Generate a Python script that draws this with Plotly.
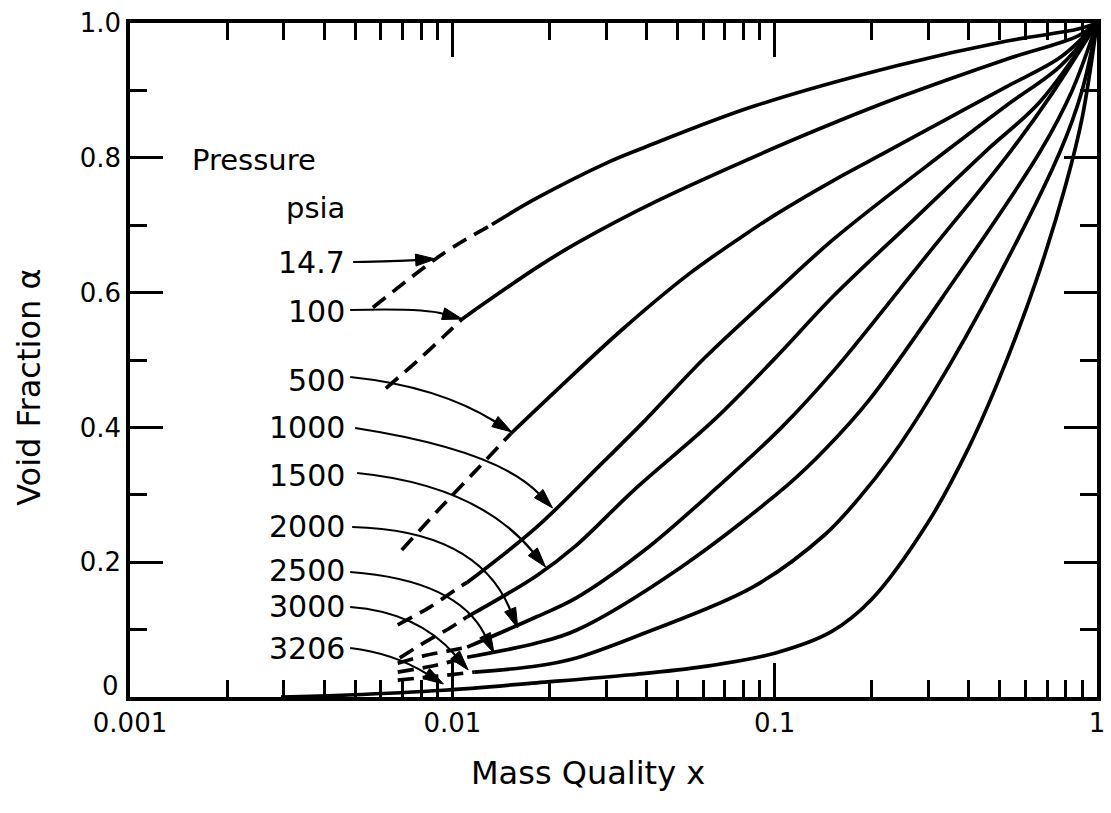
import math
import plotly.graph_objects as go

FONT = "DejaVu Sans"

# ---------------- data ----------------
pressure_labels = ["14.7", "100", "500", "1000", "1500", "2000", "2500", "3000", "3206"]

p14_dash_x = [0.00567, 0.00887, 0.01058, 0.01327]
p14_dash_a = [0.578, 0.650, 0.674, 0.701]
p14_x = [0.01327, 0.01826, 0.03063, 0.03925, 0.0855, 0.2407, 0.5212, 0.874, 1.0]
p14_a = [0.701, 0.740, 0.794, 0.815, 0.876, 0.937, 0.973, 0.991, 1.0]

p100_dash_x = [0.00622, 0.0078, 0.00945, 0.01073]
p100_dash_a = [0.458, 0.499, 0.536, 0.561]
p100_x = [0.01073, 0.01826, 0.02424, 0.04274, 0.0979, 0.153, 0.2407, 0.5212, 0.874, 1.0]
p100_a = [0.561, 0.637, 0.673, 0.735, 0.813, 0.852, 0.889, 0.946, 0.981, 1.0]

p500_dash_x = [0.00697, 0.00899, 0.01194, 0.0152]
p500_dash_a = [0.218, 0.276, 0.338, 0.391]
p500_x = [0.0152, 0.02104, 0.0338, 0.0540, 0.0791, 0.1, 0.153, 0.2227, 0.3406, 0.5212, 0.7694, 1.0]
p500_a = [0.391, 0.455, 0.546, 0.627, 0.683, 0.715, 0.767, 0.809, 0.857, 0.905, 0.949, 1.0]

p1000_dash_x = [0.00677, 0.0085, 0.01036, 0.01112]
p1000_dash_a = [0.107, 0.133, 0.161, 0.170]
p1000_x = [0.01112, 0.01826, 0.02915, 0.03954, 0.0609, 0.1, 0.153, 0.3406, 0.5212, 0.7694, 1.0]
p1000_a = [0.170, 0.252, 0.347, 0.410, 0.504, 0.600, 0.680, 0.810, 0.877, 0.936, 1.0]

p1500_dash_x = [0.00687, 0.0082, 0.0098, 0.01112]
p1500_dash_a = [0.058, 0.081, 0.102, 0.119]
p1500_x = [0.01112, 0.01826, 0.02424, 0.0366, 0.0645, 0.1, 0.153, 0.2697, 0.4522, 0.6677, 1.0]
p1500_a = [0.119, 0.180, 0.225, 0.307, 0.410, 0.502, 0.596, 0.708, 0.810, 0.884, 1.0]

p2000_dash_x = [0.00677, 0.00814, 0.00965, 0.01112]
p2000_dash_a = [0.050, 0.061, 0.068, 0.074]
p2000_x = [0.01112, 0.01826, 0.02424, 0.03954, 0.0663, 0.1051, 0.153, 0.2894, 0.54, 0.727, 1.0]
p2000_a = [0.074, 0.119, 0.147, 0.218, 0.311, 0.400, 0.485, 0.649, 0.810, 0.896, 1.0]

p2500_dash_x = [0.00677, 0.00868, 0.01112]
p2500_dash_a = [0.037, 0.046, 0.059]
p2500_x = [0.01112, 0.01826, 0.02424, 0.05137, 0.1112, 0.1425, 0.196, 0.358, 0.6677, 0.8375, 1.0]
p2500_a = [0.059, 0.080, 0.099, 0.193, 0.317, 0.366, 0.440, 0.616, 0.810, 0.900, 1.0]

p3000_dash_x = [0.00677, 0.00899, 0.01169]
p3000_dash_a = [0.025, 0.031, 0.037]
p3000_x = [0.01169, 0.01826, 0.02424, 0.03954, 0.0855, 0.1425, 0.1826, 0.2291, 0.3107, 0.4924, 0.7694, 0.899, 1.0]
p3000_a = [0.037, 0.046, 0.058, 0.095, 0.163, 0.240, 0.295, 0.355, 0.452, 0.622, 0.810, 0.900, 1.0]

p3206_x = [0.00294, 0.00475, 0.00938, 0.01826, 0.0358, 0.06, 0.1, 0.15, 0.2, 0.3, 0.4, 0.5, 0.65, 0.8, 0.9, 1.0]
p3206_a = [0.0, 0.003, 0.010, 0.021, 0.033, 0.045, 0.065, 0.097, 0.145, 0.26, 0.37, 0.475, 0.62, 0.76, 0.86, 1.0]

x_major = [0.001, 0.01, 0.1, 1]
x_major_text = ["0.001", "0.01", "0.1", "1"]
x_minor = [m * d for d in (0.001, 0.01, 0.1) for m in range(2, 10)]
y_major = [0, 0.2, 0.4, 0.6, 0.8, 1.0]
y_major_text = ["", "0.2", "0.4", "0.6", "0.8", "1.0"]
y_minor = [0.1, 0.3, 0.5, 0.7, 0.9]

dashed_sets = [
    (p14_dash_x, p14_dash_a), (p100_dash_x, p100_dash_a), (p500_dash_x, p500_dash_a),
    (p1000_dash_x, p1000_dash_a), (p1500_dash_x, p1500_dash_a), (p2000_dash_x, p2000_dash_a),
    (p2500_dash_x, p2500_dash_a), (p3000_dash_x, p3000_dash_a),
]
solid_sets = [
    (p14_x, p14_a), (p100_x, p100_a), (p500_x, p500_a), (p1000_x, p1000_a),
    (p1500_x, p1500_a), (p2000_x, p2000_a), (p2500_x, p2500_a), (p3000_x, p3000_a),
    (p3206_x, p3206_a),
]

# ---------------- figure ----------------
W, H = 1111, 813
ML, MR, MT, MB = 130, 6, 23, 116
PW, PH = W - ML - MR, H - MT - MB


def P(px, py):
    return ((px - ML) / PW, (H - MB - py) / PH)


fig = go.Figure()
for (xs, ys), name in zip(solid_sets, pressure_labels):
    fig.add_trace(go.Scatter(x=xs, y=ys, mode="lines", name=name + " psia",
                             line=dict(color="black", width=3.7, shape="spline", smoothing=1.0),
                             showlegend=False, hoverinfo="skip"))
for (xs, ys), name in zip(dashed_sets, pressure_labels):
    fig.add_trace(go.Scatter(x=xs, y=ys, mode="lines", name=name + " psia (extrap.)",
                             line=dict(color="black", width=3.7, shape="spline", smoothing=0.8,
                                       dash="16px,9px"),
                             showlegend=False, hoverinfo="skip"))

annotations = []
shapes = []

# "Pressure" / "psia" heading
px_, py_ = P(190, 160)
annotations.append(dict(text="Pressure", x=px_, y=py_, xref="paper", yref="paper",
                        xanchor="left", yanchor="middle", showarrow=False,
                        font=dict(family=FONT, size=29, color="black")))
px_, py_ = P(349, 208)
annotations.append(dict(text="psia", x=px_, y=py_, xref="paper", yref="paper",
                        xanchor="right", yanchor="middle", showarrow=False,
                        font=dict(family=FONT, size=29, color="black")))

label_y = [262, 311, 380, 428, 475, 526, 570, 606, 648]
leaders = [  # start, control, tip (pixel positions of the leader arrows)
    ((355, 262), (400, 261), (438, 259)),
    ((352, 310), (425, 308), (465, 319)),
    ((352, 377), (440, 386), (515, 432)),
    ((357, 428), (500, 450), (556, 508)),
    ((359, 473), (480, 485), (549, 567)),
    ((354, 527), (480, 530), (521, 628)),
    ((352, 572), (460, 580), (497, 653)),
    ((352, 607), (420, 612), (471, 670)),
    ((352, 648), (395, 653), (446, 684)),
]
for lab, ly, (S, C, T) in zip(pressure_labels, label_y, leaders):
    px_, py_ = P(349, ly)
    annotations.append(dict(text=lab, x=px_, y=py_, xref="paper", yref="paper",
                            xanchor="right", yanchor="middle", showarrow=False,
                            font=dict(family=FONT, size=30, color="black")))
    dx, dy = T[0] - C[0], T[1] - C[1]
    L = math.hypot(dx, dy)
    ux, uy = dx / L, dy / L
    hl, hw = 20, 6
    B = (T[0] - hl * ux, T[1] - hl * uy)
    c1 = (B[0] - hw * uy, B[1] + hw * ux)
    c2 = (B[0] + hw * uy, B[1] - hw * ux)
    s, c, b = P(*S), P(*C), P(*B)
    shapes.append(dict(type="path", xref="paper", yref="paper",
                       path=f"M {s[0]},{s[1]} Q {c[0]},{c[1]} {b[0]},{b[1]}",
                       line=dict(color="black", width=2.2)))
    t, k1, k2 = P(*T), P(*c1), P(*c2)
    shapes.append(dict(type="path", xref="paper", yref="paper",
                       path=f"M {t[0]},{t[1]} L {k1[0]},{k1[1]} L {k2[0]},{k2[1]} Z",
                       fillcolor="black", line=dict(color="black", width=1)))

# "0" label of the void-fraction axis (raised, as in the reference)
px_, py_ = P(121, 686)
annotations.append(dict(text="0", x=px_, y=py_, xref="paper", yref="paper",
                        xanchor="right", yanchor="middle", showarrow=False,
                        font=dict(family=FONT, size=26, color="black")))

# axis titles
px_, py_ = P(592, 773)
annotations.append(dict(text="Mass Quality x", x=px_, y=py_, xref="paper", yref="paper",
                        xanchor="center", yanchor="middle", showarrow=False,
                        font=dict(family=FONT, size=32, color="black")))
px_, py_ = P(28, 387)
annotations.append(dict(text="Void Fraction α", x=px_, y=py_, xref="paper", yref="paper",
                        xanchor="center", yanchor="middle", showarrow=False, textangle=-90,
                        font=dict(family=FONT, size=32, color="black")))

axis_common = dict(ticks="inside", tickwidth=3, tickcolor="black",
                   showline=True, linewidth=3.5, linecolor="black", mirror="allticks",
                   showgrid=False, zeroline=False,
                   tickfont=dict(family=FONT, size=26, color="black"))

fig.update_layout(
    width=W, height=H,
    margin=dict(l=ML, r=MR, t=MT, b=MB, pad=0),
    paper_bgcolor="white", plot_bgcolor="white",
    xaxis=dict(type="log", range=[-3, 0], tickmode="array", tickvals=x_major,
               ticktext=x_major_text, ticklen=34,
               minor=dict(tickmode="array", tickvals=x_minor, ticks="inside", ticklen=17,
                          tickwidth=3, tickcolor="black", showgrid=False),
               **axis_common),
    yaxis=dict(range=[0, 1], tickmode="array", tickvals=y_major, ticktext=y_major_text,
               ticklen=33,
               minor=dict(tickmode="array", tickvals=y_minor, ticks="inside", ticklen=17,
                          tickwidth=3, tickcolor="black", showgrid=False),
               **axis_common),
    annotations=annotations,
    shapes=shapes,
    showlegend=False,
)

fig.write_html("out.html")
